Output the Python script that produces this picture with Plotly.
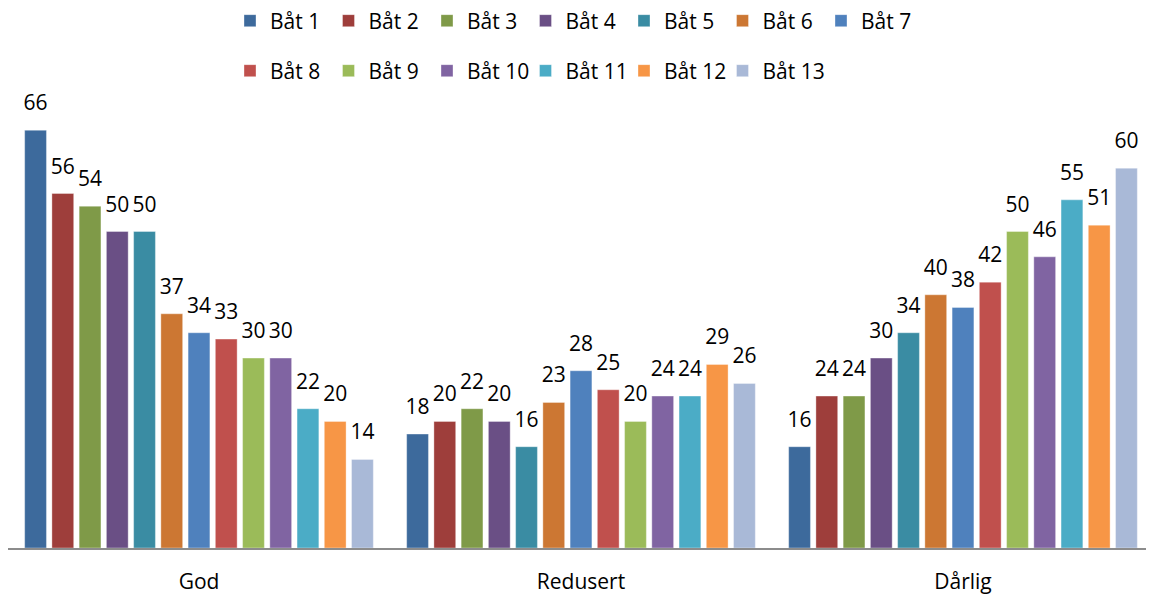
import plotly.graph_objects as go

categories = ["God", "Redusert", "Dårlig"]
series_names = [f"Båt {i}" for i in range(1, 14)]
values = {
    "Båt 1": [66, 18, 16],
    "Båt 2": [56, 20, 24],
    "Båt 3": [54, 22, 24],
    "Båt 4": [50, 20, 30],
    "Båt 5": [50, 16, 34],
    "Båt 6": [37, 23, 40],
    "Båt 7": [34, 28, 38],
    "Båt 8": [33, 25, 42],
    "Båt 9": [30, 20, 50],
    "Båt 10": [30, 24, 46],
    "Båt 11": [22, 24, 55],
    "Båt 12": [20, 29, 51],
    "Båt 13": [14, 26, 60],
}
colors = ["#3D6A9C", "#9E3E3B", "#7F9A48", "#6A4F85", "#3A8CA3", "#CC7733", "#4F81BD",
          "#C0504D", "#9BBB59", "#8064A2", "#4BACC6", "#F79646", "#A9B9D7"]

FONT = "Open Sans"
GAP = 0.073
W, H = 1146, 591          # page has an 8px body margin
plot_top, plot_bottom = 92, 540
ph = plot_bottom - plot_top

fig = go.Figure()
for i, name in enumerate(series_names):
    fig.add_trace(go.Bar(
        x=categories, y=values[name], name=name, offsetgroup=str(i),
        marker=dict(color=colors[i], line=dict(color="rgba(255,255,255,0.35)", width=1)),
        legend="legend" if i < 7 else "legend2",
    ))
# empty spacer legend entry (shares the last offset group, draws nothing)
fig.add_trace(go.Bar(x=[None], y=[None], name="     ", legend="legend2",
                     offsetgroup=str(len(series_names) - 1),
                     marker=dict(color="rgba(0,0,0,0)", line=dict(width=0)),
                     hoverinfo="skip"))
# data labels: grouped text scatter traces aligned with the bars
for i, name in enumerate(series_names):
    fig.add_trace(go.Scatter(
        x=categories, y=values[name], mode="markers+text", orientation="v",
        offsetgroup=str(i),
        text=[str(v) for v in values[name]], textposition="top center",
        marker=dict(size=22, opacity=0), cliponaxis=False,
        textfont=dict(size=21, color="#000000", family=FONT),
        showlegend=False, hoverinfo="skip",
    ))

legx = 222 / W
fig.update_layout(
    width=W, height=H,
    margin=dict(l=0, r=0, t=plot_top, b=H - plot_bottom, autoexpand=False),
    plot_bgcolor="white", paper_bgcolor="white",
    barmode="group", bargap=GAP, bargroupgap=0.2,
    scattermode="group", scattergap=GAP,
    font=dict(family=FONT, size=21, color="#000000"),
    xaxis=dict(showline=True, linecolor="#8C8C8C", linewidth=2, ticks="",
               ticklabelstandoff=14,
               tickfont=dict(size=21, family=FONT), showgrid=False),
    yaxis=dict(visible=False, range=[0, ph / 6.33], showgrid=False),
    legend=dict(orientation="h", x=legx, xanchor="left",
                y=(plot_bottom - 13) / ph, yanchor="middle",
                entrywidth=53.5, entrywidthmode="pixels", traceorder="normal",
                font=dict(size=21, family=FONT)),
    legend2=dict(orientation="h", x=legx, xanchor="left",
                 y=(plot_bottom - 63) / ph, yanchor="middle",
                 entrywidth=53.5, entrywidthmode="pixels", traceorder="normal",
                 font=dict(size=21, family=FONT)),
    showlegend=True,
)
fig.write_html("out.html")
